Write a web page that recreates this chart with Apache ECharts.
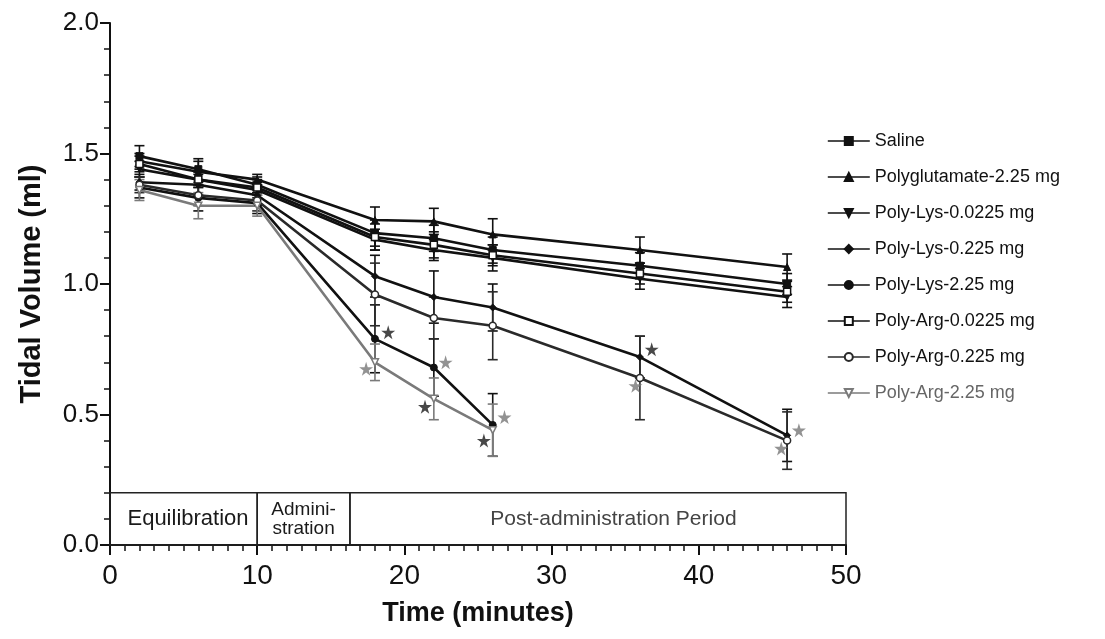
<!DOCTYPE html>
<html>
<head>
<meta charset="utf-8">
<script src="https://cdn.jsdelivr.net/npm/echarts/dist/echarts.min.js"></script>
<style>
html,body{margin:0;padding:0;background:#fff;}
#chart{width:1105px;height:639px;}
</style>
</head>
<body>
<div id="chart"></div>
<script>
// ---- data ----
const times = [2, 6, 10, 18, 22, 26, 36, 46];
const seriesNames = [
  'Saline', 'Polyglutamate-2.25 mg', 'Poly-Lys-0.0225 mg', 'Poly-Lys-0.225 mg',
  'Poly-Lys-2.25 mg', 'Poly-Arg-0.0225 mg', 'Poly-Arg-0.225 mg', 'Poly-Arg-2.25 mg'
];
const saline      = [1.49, 1.44, 1.38, 1.195, 1.175, 1.13, 1.07, 1.00];
const polyglu     = [1.47, 1.43, 1.40, 1.245, 1.24, 1.19, 1.13, 1.065];
const lys00225    = [1.44, 1.40, 1.36, 1.17, 1.13, 1.10, 1.02, 0.95];
const lys0225     = [1.39, 1.38, 1.34, 1.03, 0.95, 0.91, 0.72, 0.42];
const lys225      = [1.37, 1.33, 1.31, 0.79, 0.68, 0.46];
const arg00225    = [1.46, 1.40, 1.37, 1.18, 1.15, 1.11, 1.04, 0.97];
const arg0225     = [1.38, 1.34, 1.32, 0.96, 0.87, 0.84, 0.64, 0.40];
const arg225      = [1.36, 1.30, 1.30, 0.70, 0.56, 0.44];

const salineErr   = [0.04, 0.04, 0.03, 0.05, 0.05, 0.05, 0.05, 0.04];
const polygluErr  = [0.03, 0.04, 0.02, 0.05, 0.05, 0.06, 0.05, 0.05];
const lys00225Err = [0.03, 0.03, 0.03, 0.04, 0.04, 0.05, 0.04, 0.04];
const lys0225Err  = [0.03, 0.04, 0.04, 0.08, 0.10, 0.09, 0.08, 0.10];
const lys225Err   = [0.04, 0.05, 0.04, 0.13, 0.11, 0.12];
const arg00225Err = [0.03, 0.03, 0.03, 0.05, 0.05, 0.04, 0.04, 0.04];
const arg0225Err  = [0.03, 0.04, 0.04, 0.12, 0.08, 0.13, 0.16, 0.11];
const arg225Err   = [0.04, 0.05, 0.04, 0.07, 0.08, 0.10];

// significance asterisks [time, volume]
const sigBlack = [[18.9, 0.815], [21.4, 0.53], [25.4, 0.40], [36.8, 0.75]];
const sigGray  = [[17.4, 0.675], [22.8, 0.70], [26.8, 0.49], [35.7, 0.61], [46.8, 0.44], [45.6, 0.37]];

// study phases [start, end, label, label centre]
const phases = [
  [0, 10, 'Equilibration', 5.3],
  [10, 16.3, 'Admini-\nstration', 13.15],
  [16.3, 50, 'Post-administration Period', 34.2]
];
const phaseTop = 0.2;

const yTicks = ['0.0', '0.5', '1.0', '1.5', '2.0'];

// ---- styling ----
const allVals = [saline, polyglu, lys00225, lys0225, lys225, arg00225, arg0225, arg225];
const allErrs = [salineErr, polygluErr, lys00225Err, lys0225Err, lys225Err, arg00225Err, arg0225Err, arg225Err];
const styles = [
  {symbol: 'rect', rot: 0, open: false, color: '#111'},
  {symbol: 'triangle', rot: 0, open: false, color: '#111'},
  {symbol: 'triangle', rot: 180, open: false, color: '#111'},
  {symbol: 'diamond', rot: 0, open: false, color: '#111'},
  {symbol: 'circle', rot: 0, open: false, color: '#111'},
  {symbol: 'rect', rot: 0, open: true, color: '#111'},
  {symbol: 'circle', rot: 0, open: true, color: '#2a2a2a'},
  {symbol: 'triangle', rot: 180, open: true, color: '#7a7a7a'}
];
const FONT = '"Liberation Sans", Arial, sans-serif';
const STAR = 'path://M50,0 L61,35 L98,35 L68,57 L79,91 L50,70 L21,91 L32,57 L2,35 L39,35 Z';

const series = [];

// phase box
series.push({
  type: 'custom',
  name: '__phases',
  silent: true,
  z: 1,
  data: phases.map(p => [p[0], p[1], p[3]]),
  renderItem: function (params, api) {
    const s = api.value(0), e = api.value(1), c = api.value(2);
    const p0 = api.coord([s, phaseTop]);
    const p1 = api.coord([e, 0]);
    const pc = api.coord([c, phaseTop / 2]);
    const idx = params.dataIndex;
    const label = phases[idx][2];
    const font = idx === 0 ? '22px ' : (idx === 1 ? '19px ' : '21px ');
    return {
      type: 'group',
      children: [
        {type: 'rect', shape: {x: p0[0], y: p0[1], width: p1[0] - p0[0], height: p1[1] - p0[1]},
         style: {fill: 'rgba(255,255,255,0)', stroke: '#222', lineWidth: 1.5}},
        {type: 'text', x: pc[0], y: pc[1],
         style: {text: label, fill: idx === 2 ? '#444' : '#1a1a1a', font: font + FONT,
                 align: 'center', verticalAlign: 'middle', lineHeight: 19}}
      ]
    };
  }
});

allVals.forEach((vals, k) => {
  const st = styles[k];
  const data = vals.map((v, i) => [times[i], v]);
  // error bars
  series.push({
    type: 'custom',
    name: '__err' + k,
    z: 2,
    silent: true,
    data: vals.map((v, i) => [times[i], v, allErrs[k][i]]),
    renderItem: function (params, api) {
      const x = api.value(0), y = api.value(1), e = api.value(2);
      const t = api.coord([x, y + e]);
      const b = api.coord([x, y - e]);
      const w = 5;
      const ls = {stroke: st.color, lineWidth: 1.6};
      return {
        type: 'group',
        children: [
          {type: 'line', shape: {x1: t[0], y1: t[1], x2: b[0], y2: b[1]}, style: ls},
          {type: 'line', shape: {x1: t[0] - w, y1: t[1], x2: t[0] + w, y2: t[1]}, style: ls},
          {type: 'line', shape: {x1: b[0] - w, y1: b[1], x2: b[0] + w, y2: b[1]}, style: ls}
        ]
      };
    }
  });
  series.push({
    type: 'line',
    name: seriesNames[k],
    z: 3,
    data: data,
    symbol: st.symbol,
    symbolRotate: st.rot,
    symbolSize: 7,
    showAllSymbol: true,
    color: st.color,
    lineStyle: {color: st.color, width: 2.6},
    itemStyle: st.open ? {color: '#fff', borderColor: st.color, borderWidth: 1.5}
                       : {color: st.color, borderColor: st.color, borderWidth: 1},
    emphasis: {disabled: true},
    animation: false
  });
});

series.push({
  type: 'scatter', name: '__sigBlack', z: 4, symbol: STAR, symbolSize: 14,
  itemStyle: {color: '#1a1a1a'}, data: sigBlack, silent: true
});
series.push({
  type: 'scatter', name: '__sigGray', z: 4, symbol: STAR, symbolSize: 14,
  itemStyle: {color: '#777'}, data: sigGray, silent: true
});

const chart = echarts.init(document.getElementById('chart'), null, {renderer: 'canvas'});
chart.setOption({
  animation: false,
  backgroundColor: '#ffffff',
  textStyle: {fontFamily: FONT},
  grid: {left: 110, top: 23, width: 736, height: 522, containLabel: false},
  legend: {
    orient: 'vertical',
    left: 822,
    top: 127,
    itemGap: 18,
    itemWidth: 42,
    itemHeight: 10,
    selectedMode: false,
    lineStyle: {width: 1.6},
    textStyle: {fontFamily: FONT, fontSize: 18, color: '#111'},
    data: seriesNames.map((n, k) => ({name: n, textStyle: {color: k === 7 ? '#666' : '#111'}}))
  },
  xAxis: {
    type: 'value', min: 0, max: 50, interval: 10,
    name: 'Time (minutes)', nameLocation: 'middle', nameGap: 55,
    nameTextStyle: {fontFamily: FONT, fontSize: 27, fontWeight: 'bold', color: '#111'},
    axisLine: {show: true, lineStyle: {color: '#111', width: 2}},
    axisTick: {show: true, length: 10, lineStyle: {color: '#111', width: 2}},
    minorTick: {show: true, splitNumber: 10, length: 6, lineStyle: {color: '#111', width: 1.5}},
    axisLabel: {fontFamily: FONT, fontSize: 28, color: '#111', margin: 17},
    splitLine: {show: false}, minorSplitLine: {show: false}
  },
  yAxis: {
    type: 'value', min: 0, max: 2, interval: 0.5,
    name: 'Tidal Volume (ml)', nameLocation: 'middle', nameGap: 64, nameRotate: 90,
    nameTextStyle: {fontFamily: FONT, fontSize: 29, fontWeight: 'bold', color: '#111'},
    axisLine: {show: true, lineStyle: {color: '#111', width: 2}},
    axisTick: {show: true, length: 10, lineStyle: {color: '#111', width: 2}},
    minorTick: {show: true, splitNumber: 5, length: 6, lineStyle: {color: '#111', width: 1.5}},
    axisLabel: {fontFamily: FONT, fontSize: 26, color: '#111', margin: 11,
                formatter: v => yTicks[Math.round(v / 0.5)]},
    splitLine: {show: false}, minorSplitLine: {show: false}
  },
  series: series
});
</script>
</body>
</html>
